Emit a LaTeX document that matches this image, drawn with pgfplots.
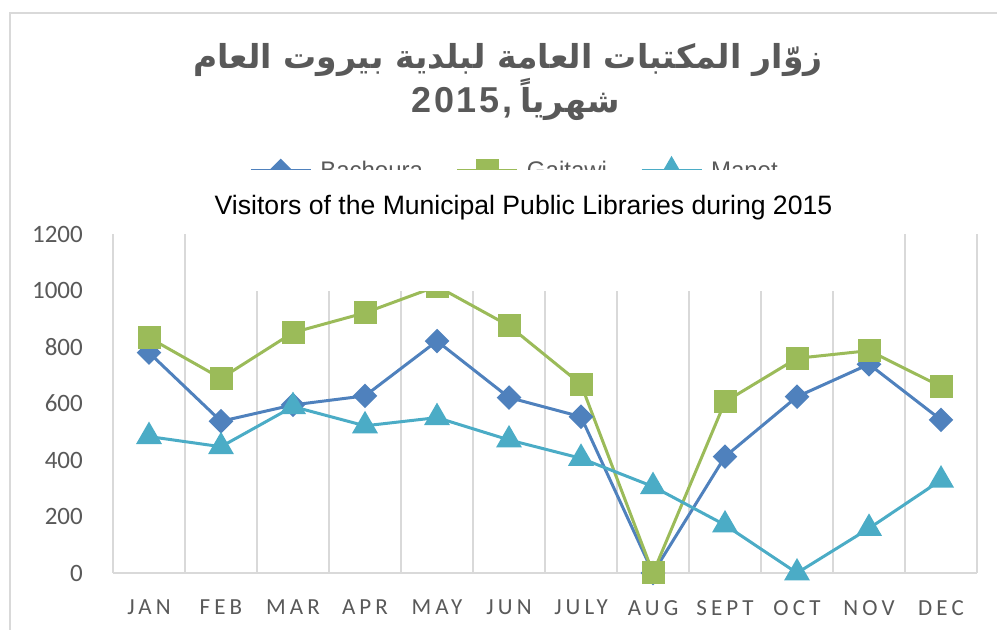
\documentclass[border=0pt]{standalone}
\usepackage{fontspec}
\usepackage{pgfplots}
\pgfplotsset{compat=1.18}
\setmainfont{Liberation Sans}
\newfontfamily\arabicfont[Script=Arabic]{DejaVu Sans}
\newfontfamily\digitfont[LetterSpace=8]{Liberation Sans}
\newfontfamily\calib{Carlito}
\newfontfamily\calibsp[LetterSpace=18]{Carlito}
\TeXXeTstate=1
\definecolor{txtgray}{HTML}{595959}
\definecolor{gridgray}{HTML}{D9D9D9}
\definecolor{cblue}{HTML}{4F81BD}
\definecolor{cgreen}{HTML}{9BBB59}
\definecolor{cteal}{HTML}{4BACC6}

\pgfplotstableread{
x bach gait manet
0 780 833 483
1 537 689 447
2 595 851 589
3 627 921 521
4 821 1015 550
5 621 875 471
6 553 668 406
7 0 0 306
8 412 606 170
9 624 760 0
10 739 787 158
11 542 660 329
}\datatab

\begin{document}
\begin{tikzpicture}[x=1bp,y=1bp]
\useasboundingbox (0,0) rectangle (997,630);
\draw[gridgray, line width=1.5bp] (10,-5) -- (10,617) -- (1005,617);
\begin{axis}[
  at={(113bp,57bp)}, anchor=south west, scale only axis,
  width=864bp, height=339bp,
  xmin=-0.5, xmax=11.5, ymin=0, ymax=1200,
  axis lines*=left,
  x axis line style={gridgray, line width=1.5bp, -},
  y axis line style={draw=none},
  major tick length=0pt, minor tick length=0pt,
  xtick={0,...,11},
  xticklabels={JAN,FEB,MAR,APR,MAY,JUN,JULY,AUG,SEPT,OCT,NOV,DEC},
  minor xtick={-0.5,0.5,...,11.5},
  xminorgrids=true,
  minor grid style={gridgray, line width=1.5bp},
  ytick={0,200,...,1200},
  /pgf/number format/assume math mode=true,
  /pgf/number format/1000 sep={},
  xticklabel style={font=\fontsize{23bp}{26bp}\calibsp, text=txtgray, inner sep=0pt, anchor=north, yshift=-27bp},
  yticklabel style={font=\fontsize{25bp}{28bp}\calib, text=txtgray, inner sep=0pt, anchor=east, xshift=-30bp},
  legend style={at={(rel axis cs:0.154,1.189)}, anchor=west, draw=none, fill=none,
    font=\fontsize{24bp}{28bp}\selectfont, text=txtgray,
    legend columns=3,
    /tikz/every odd column/.append style={column sep=8bp},
    /tikz/every even column/.append style={column sep=33bp},
    nodes={inner sep=0pt}},
  legend image code/.code={\draw[mark repeat=2, mark phase=2] plot coordinates {(0bp,0bp) (30bp,0bp) (60bp,0bp)};},
  every axis plot/.append style={line width=3bp},
]
\addplot[cblue, mark=square*, mark size=7.2bp, mark options={rotate=45, solid}] table[x=x,y=bach] {\datatab};
\addlegendentry{Bachoura}
\addplot[cgreen, mark=square*, mark size=10bp, mark options={solid}] table[x=x,y=gait] {\datatab};
\addlegendentry{Gaitawi}
\addplot[cteal, mark=triangle*, mark size=12bp, mark options={solid}] table[x=x,y=manet] {\datatab};
\addlegendentry{Manet}
\end{axis}
\fill[white] (200,339) rectangle (868,460.3);
\node[font=\fontsize{26.6bp}{30bp}\selectfont, text=black] at (523.5,422) {Visitors of the Municipal Public Libraries during 2015};
\node[font=\fontsize{33bp}{40bp}\arabicfont\bfseries, text=txtgray] at (508,570) {\beginR زوّار المكتبات العامة لبلدية بيروت العام\endR};
\node[anchor=base east, inner sep=0pt, font=\fontsize{36bp}{40bp}\digitfont\bfseries, text=txtgray] at (513,517) {2015,};
\node[anchor=base west, inner sep=0pt, font=\fontsize{33bp}{40bp}\arabicfont\bfseries, text=txtgray] at (520,517) {\beginR شهرياً\endR};
\end{tikzpicture}
\end{document}
